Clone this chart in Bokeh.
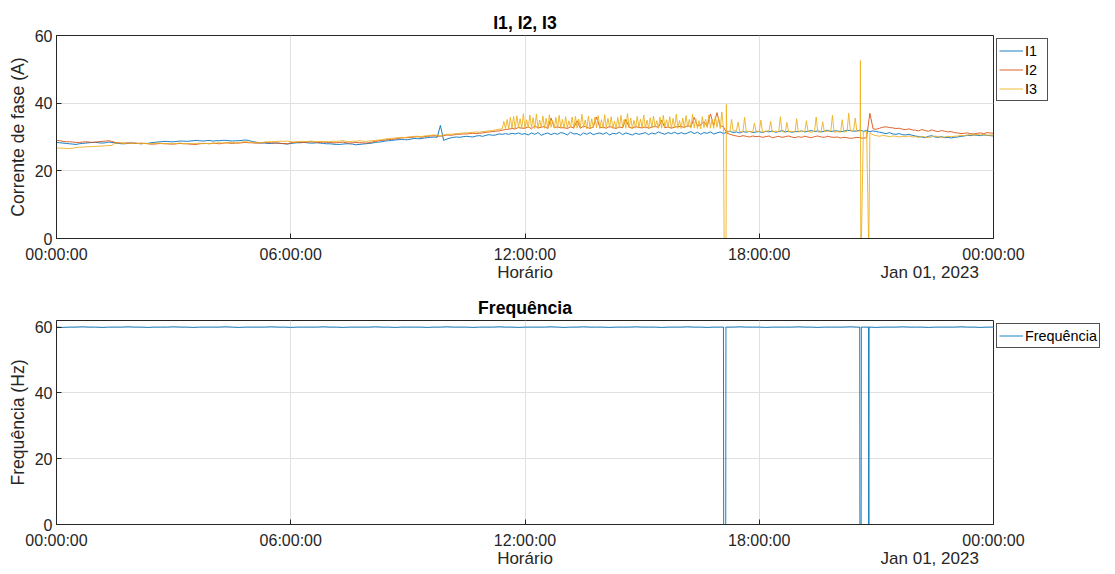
from bokeh.plotting import figure
from bokeh.layouts import column
from bokeh.models import FixedTicker, Legend, LegendItem, Range1d, LinearAxis
from bokeh.embed import file_html
from bokeh.resources import INLINE

# ---------------- data (5-minute samples, 00:00 .. 24:00) ----------------
i1 = [
    28.4, 28.3, 28.2, 28.1, 28.0, 27.9, 27.8, 28.0, 28.1, 28.2, 28.3, 28.4,
    28.4, 28.3, 28.2, 28.3, 28.5, 28.4, 28.2, 28.1, 28.0, 28.0, 28.1, 28.2,
    28.2, 28.1, 28.0, 28.1, 28.1, 28.3, 28.4, 28.5, 28.6, 28.7, 28.7, 28.6,
    28.6, 28.7, 28.8, 28.8, 28.7, 28.8, 28.9, 29.0, 28.9, 28.8, 28.9, 29.0,
    28.8, 28.9, 28.9, 29.0, 29.0, 28.9, 28.8, 28.9, 28.9, 29.0, 29.1, 29.0,
    28.7, 28.5, 28.3, 28.2, 28.2, 28.1, 28.1, 28.2, 28.2, 28.1, 28.0, 27.9,
    28.1, 28.2, 28.3, 28.3, 28.4, 28.3, 28.2, 28.2, 28.3, 28.2, 28.1, 28.0,
    28.0, 27.9, 27.8, 27.8, 27.9, 28.0, 28.0, 27.9, 27.7, 27.8, 27.9, 28.0,
    28.1, 28.2, 28.4, 28.5, 28.6, 28.8, 28.9, 29.0, 29.1, 29.2, 29.3, 29.2,
    29.2, 29.4, 29.6, 29.5, 29.5, 29.7, 29.8, 29.9, 30.0, 29.9, 33.4, 29.0,
    29.4, 29.7, 29.9, 30.0, 29.9, 30.1, 30.2, 30.1, 30.0, 30.3, 30.4, 30.2,
    30.5, 30.7, 30.5, 30.6, 30.9, 30.8, 31.0, 30.8, 31.1, 30.9, 31.2, 30.8,
    31.0, 30.6, 31.2, 30.8, 31.3, 30.5, 30.9, 31.2, 30.7, 31.1, 30.8, 31.3,
    31.1, 30.6, 31.4, 30.9, 31.0, 30.5, 31.2, 30.8, 31.3, 30.7, 31.0, 31.2,
    30.8, 31.3, 30.6, 31.1, 30.9, 31.4, 30.7, 31.2, 30.9, 30.6, 31.1, 30.8,
    31.0, 31.3, 30.7, 31.2, 30.9, 31.5, 31.1, 30.8, 31.3, 31.0, 31.4, 30.9,
    31.3, 30.9, 31.2, 31.6, 31.0, 31.4, 30.8, 31.3, 31.1, 31.5, 30.9, 31.2,
    31.5, 31.0, 31.4, 31.7, 31.3, 31.5, 31.2, 31.6, 31.4, 31.7, 31.3, 31.5,
    31.6, 31.3, 31.7, 31.5, 31.8, 31.4, 31.6, 31.9, 31.5, 31.7, 31.4, 31.6,
    31.6, 31.8, 31.5, 31.7, 31.9, 31.6, 31.8, 31.5, 31.7, 32.0, 31.6, 31.8,
    31.8, 31.6, 31.7, 32.0, 31.9, 31.7, 31.8, 32.0, 31.7, 31.9, 31.6, 31.8,
    31.6, 31.4, 31.2, 31.0, 31.3, 30.9, 30.8, 31.0, 30.7, 30.6, 30.8, 30.5,
    30.3, 30.1, 30.0, 29.8, 30.2, 30.4, 30.0, 29.9, 30.1, 29.8, 29.9, 29.7,
    29.9, 30.0, 30.2, 30.3, 30.5, 30.4, 30.6, 30.5, 30.4, 30.6, 30.5, 30.4,
    30.3,
]
i2 = [
    29.0, 28.9, 28.7, 28.6, 28.6, 28.5, 28.4, 28.4, 28.5, 28.6, 28.5, 28.4,
    28.5, 28.6, 28.7, 28.8, 28.9, 28.7, 28.4, 28.3, 28.2, 28.2, 28.3, 28.2,
    28.1, 28.1, 28.2, 28.1, 28.0, 27.9, 27.9, 28.0, 28.1, 28.0, 28.0, 27.9,
    27.9, 28.0, 28.1, 28.0, 28.0, 27.9, 27.8, 27.8, 28.0, 28.1, 28.1, 28.0,
    28.2, 28.1, 28.0, 28.1, 28.3, 28.2, 28.1, 28.2, 28.2, 28.3, 28.4, 28.3,
    28.3, 28.2, 28.2, 28.3, 28.4, 28.3, 28.3, 28.2, 28.2, 28.1, 28.1, 28.0,
    28.3, 28.4, 28.5, 28.4, 28.4, 28.5, 28.6, 28.5, 28.4, 28.4, 28.5, 28.4,
    28.4, 28.3, 28.3, 28.4, 28.5, 28.3, 28.2, 28.3, 28.4, 28.3, 28.3, 28.2,
    28.3, 28.5, 28.7, 28.9, 29.0, 29.1, 29.3, 29.3, 29.4, 29.6, 29.7, 29.8,
    29.8, 29.9, 30.0, 30.1, 29.9, 30.1, 30.2, 30.3, 30.4, 30.3, 30.2, 30.4,
    30.6, 30.5, 30.6, 30.8, 30.8, 30.9, 30.9, 31.0, 31.1, 31.0, 31.1, 31.2,
    31.4, 31.5, 31.6, 31.7, 31.8, 32.0, 32.2, 32.3, 32.5, 32.4, 32.8, 32.6,
    32.6, 33.0, 32.4, 33.3, 32.7, 32.9, 33.1, 32.5, 35.6, 32.8, 33.0, 32.7,
    32.8, 32.5, 33.0, 32.7, 34.8, 32.6, 33.2, 32.9, 32.5, 33.0, 35.9, 32.8,
    32.9, 32.6, 33.1, 32.8, 32.5, 33.0, 32.7, 35.2, 32.9, 32.6, 33.1, 32.8,
    32.7, 33.0, 32.6, 32.9, 33.2, 32.8, 34.9, 32.7, 33.0, 32.6, 32.9, 33.1,
    33.1, 32.8, 33.4, 33.0, 35.8, 33.3, 33.6, 34.5, 33.2, 36.8, 33.5, 37.2,
    33.4, 33.0, 31.2, 30.8, 30.5, 30.3, 30.1, 30.4, 30.2, 30.0, 30.3, 30.1,
    30.2, 29.9, 30.1, 30.3, 29.8, 30.0, 30.2, 29.9, 30.1, 30.3, 30.0, 29.8,
    30.1, 29.9, 30.2, 30.0, 29.8, 30.1, 30.3, 30.0, 29.9, 30.2, 30.0, 29.9,
    30.0, 29.7, 29.9, 29.8, 29.6, 29.7, 29.9, 29.8, 29.6, 29.8, 37.0, 32.4,
    32.3, 32.6, 32.9, 33.0, 32.8, 32.7, 32.5, 32.6, 32.3, 32.2, 32.4, 32.1,
    32.0, 31.8, 32.2, 31.9, 31.7, 32.1, 31.8, 31.6, 31.9, 31.7, 31.5, 31.6,
    31.3, 31.2, 31.0, 31.1, 31.2, 31.0, 30.9, 31.1, 31.2, 31.0, 31.3, 31.2,
    31.1,
]
i3 = [
    26.8, 26.7, 26.7, 26.6, 26.6, 26.7, 26.9, 27.0, 27.0, 27.1, 27.1, 27.2,
    27.2, 27.3, 27.3, 27.4, 27.5, 27.5, 28.2, 28.3, 28.2, 28.1, 28.2, 28.1,
    28.2, 28.1, 28.0, 28.1, 28.1, 28.0, 28.1, 28.2, 28.1, 28.1, 28.0, 28.1,
    28.0, 28.1, 28.2, 28.1, 28.0, 28.1, 28.0, 28.1, 28.2, 28.0, 28.1, 28.0,
    28.1, 28.2, 28.3, 28.2, 28.2, 28.4, 28.3, 28.4, 28.3, 28.5, 28.6, 28.5,
    28.4, 28.5, 28.4, 28.3, 28.5, 28.6, 28.6, 28.7, 28.7, 28.8, 28.7, 28.8,
    28.6, 28.5, 28.6, 28.7, 28.7, 28.6, 28.8, 28.7, 28.6, 28.7, 28.6, 28.7,
    28.6, 28.8, 28.7, 28.8, 28.9, 28.7, 28.6, 28.8, 28.7, 28.9, 28.8, 28.7,
    28.8, 28.9, 29.0, 29.1, 29.2, 29.4, 29.5, 29.6, 29.7, 29.8, 29.9, 29.8,
    30.0, 30.1, 30.2, 30.2, 30.1, 30.3, 30.4, 30.5, 30.6, 30.5, 30.4, 30.6,
    30.8, 30.8, 30.9, 31.0, 31.1, 31.2, 31.2, 31.3, 31.4, 31.5, 31.4, 31.6,
    31.7, 31.8, 31.9, 32.1, 32.3, 32.4, 32.5, 32.4, 32.6, 32.5, 32.7, 32.6,
    32.4, 32.7, 32.8, 32.5, 32.5, 32.9, 32.6, 32.4, 32.9, 32.6, 32.6, 32.8,
    32.5, 32.7, 32.9, 32.5, 32.6, 32.8, 32.8, 32.4, 32.4, 32.7, 32.7, 32.5,
    32.6, 32.8, 32.8, 32.5, 32.5, 32.7, 32.9, 32.6, 32.7, 32.5, 32.6, 32.8,
    32.8, 32.6, 32.5, 32.8, 32.9, 32.6, 32.6, 32.9, 32.8, 32.5, 32.7, 32.6,
    32.5, 32.8, 32.9, 32.6, 32.7, 32.5, 32.4, 32.8, 32.8, 32.6, 32.6, 32.9,
    32.5, 32.6, 31.8, 31.6, 31.7, 31.9, 31.5, 31.6, 31.7, 31.6, 31.5, 31.8,
    31.6, 31.4, 31.7, 31.8, 31.5, 31.7, 31.6, 31.6, 31.4, 31.5, 31.7, 31.5,
    31.5, 31.8, 31.6, 31.6, 31.4, 31.7, 31.5, 31.5, 31.6, 31.7, 31.8, 31.4,
    31.6, 31.4, 31.5, 31.7, 31.8, 32.0, 31.7, 31.8, 31.5, 31.7, 31.3, 30.6,
    30.4, 30.2, 30.5, 30.3, 30.1, 30.3, 30.2, 30.0, 30.2, 30.1, 30.3, 30.0,
    30.1, 29.9, 30.2, 30.0, 29.8, 30.0, 30.3, 30.1, 29.9, 30.0, 30.2, 30.1,
    30.2, 30.3, 30.5, 30.4, 30.6, 30.7, 30.5, 30.8, 30.6, 30.7, 30.5, 30.6,
    30.6,
]
# I3 needle peaks between the 5-minute samples, 11:27:30 .. 17:02:30 (every 5 min)
i3_dense_peaks = [
    34.6, 35.2, 35.8, 36.1, 36.3, 35.4, 36.9, 35.1, 36.5, 35.7, 36.8, 35.0,
    36.2, 35.5, 36.6, 34.9, 35.8, 36.4, 35.2, 36.0, 34.8, 35.9, 36.1, 35.3,
    36.7, 35.0, 36.2, 35.4, 35.9, 36.3, 35.1, 36.6, 35.5, 36.0, 34.7, 35.8,
    36.4, 35.2, 36.9, 35.6, 34.9, 36.1, 35.3, 36.5, 35.0, 35.7, 36.2, 34.8,
    35.9, 36.4, 35.1, 36.0, 35.5, 36.8, 34.9, 35.6, 36.3, 35.2, 36.7, 35.4,
    34.8, 36.0, 35.3, 36.5, 35.1, 36.2, 35.7, 37.4,
]
i3_dense_start = 687.5
# sparser I3 peaks after 17:10 (minute of day, value)
i3_sparse_t = [1037.5, 1047.5, 1057.5, 1072.5, 1082.5, 1097.5, 1112.5, 1122.5,
               1137.5, 1152.5, 1167.5, 1177.5, 1192.5, 1207.5, 1217.5, 1227.5]
i3_sparse_v = [35.2, 34.4, 35.8, 34.1, 35.0, 34.6, 36.0, 34.3,
               35.4, 34.8, 35.9, 34.5, 36.4, 35.1, 37.0, 35.6]
# I3 dropouts / transients (minute of day, value)
i3_evt_t = [1026.0, 1029.0, 1029.5, 1235.5, 1236.0, 1237.0, 1248.0, 1248.5]
i3_evt_v = [0.0, 0.0, 39.6, 52.6, 0.0, 0.0, 0.0, 0.0]

# frequency, 10-minute samples
freq = [
    60.0, 59.9, 60.0, 60.0, 60.1, 60.0,
    60.0, 59.9, 60.0, 60.0, 60.0, 60.1,
    60.0, 60.0, 59.9, 60.0, 60.0, 60.0,
    60.1, 60.0, 60.0, 59.9, 60.0, 60.0,
    60.0, 60.0, 60.1, 60.0, 59.9, 60.0,
    60.0, 60.0, 60.0, 60.1, 60.0, 60.0,
    59.9, 60.0, 60.0, 60.0, 60.0, 60.1,
    60.0, 60.0, 59.9, 60.0, 60.0, 60.0,
    60.0, 60.1, 60.0, 60.0, 59.9, 60.0,
    60.0, 60.0, 60.0, 59.9, 60.0, 60.0,
    60.1, 60.0, 60.0, 60.0, 59.9, 60.0,
    60.0, 60.0, 60.1, 60.0, 60.0, 59.9,
    60.0, 60.0, 60.0, 60.0, 60.1, 60.0,
    59.9, 60.0, 60.0, 60.1, 60.0, 60.0,
    60.0, 59.9, 60.0, 60.0, 60.0, 60.1,
    60.0, 60.0, 60.0, 59.9, 60.0, 60.0,
    60.0, 60.1, 60.0, 60.0, 59.9, 60.0,
    60.0, 60.0, 60.0, 60.1, 60.0, 60.0,
    60.0, 59.9, 60.0, 60.0, 60.0, 60.0,
    60.1, 60.0, 60.0, 59.9, 60.0, 60.0,
    60.0, 60.0, 60.1, 60.0, 60.0, 60.0,
    59.9, 60.0, 60.0, 60.0, 60.1, 60.0,
    60.0, 60.0, 59.9, 60.0, 60.0, 60.0,
    60.0, 60.1, 60.0, 60.0, 59.9, 60.0,
    60.0,
]
freq_evt_t = [1025.0, 1025.3, 1028.5, 1028.8, 1234.4, 1234.7, 1236.6, 1236.9,
              1248.1, 1248.3, 1248.5, 1248.7]
freq_evt_v = [60.0, 0.0, 0.0, 60.0, 60.0, 0.0, 0.0, 60.0, 60.0, 0.0, 0.0, 60.0]

x_ticks = [0, 360, 720, 1080, 1440]
x_tick_labels = ["00:00:00", "06:00:00", "12:00:00", "18:00:00", "00:00:00"]
x_title = "Horário"
date_label = "Jan 01, 2023"
date_label_at = 1342  # minute of day under which the date text is centred

t5 = [5 * k for k in range(len(i1))]
t10 = [10 * k for k in range(len(freq))]
dense_t = [i3_dense_start + 5 * k for k in range(len(i3_dense_peaks))]


def merge(t, v, *extra):
    pts = list(zip(t, v))
    for et, ev in extra:
        pts += list(zip(et, ev))
    pts.sort()
    return [a for a, _ in pts], [b for _, b in pts]


i3_t, i3_v = merge(t5, i3, (dense_t, i3_dense_peaks), (i3_sparse_t, i3_sparse_v),
                   (i3_evt_t, i3_evt_v))
f_t, f_v = merge(t10, freq, (freq_evt_t, freq_evt_v))

FONT = "Liberation Sans"
AX = "#262626"
GRID = "#e0e0e0"
C1, C2, C3 = "#0072BD", "#D95319", "#EDB120"


def style(p, ylabel, title):
    p.title.text = title
    p.title.align = "center"
    p.title.text_font = FONT
    p.title.text_font_size = "17.6px"
    p.title.text_font_style = "bold"
    p.title.text_color = "#000000"
    p.title.standoff = 6
    p.outline_line_color = AX
    p.outline_line_alpha = 1.0
    for ax in (p.xaxis[0], p.yaxis[0]):
        ax.axis_line_color = AX
        ax.major_tick_line_color = AX
        ax.major_tick_in = 5
        ax.major_tick_out = 0
        ax.minor_tick_line_color = None
        ax.major_label_text_font = FONT
        ax.major_label_text_font_size = "16px"
        ax.major_label_text_color = AX
        ax.axis_label_text_font = FONT
        ax.axis_label_text_font_size = "17.6px"
        ax.axis_label_text_font_style = "normal"
        ax.axis_label_text_color = AX
    p.xaxis[0].ticker = FixedTicker(ticks=x_ticks)
    p.xaxis[0].major_label_overrides = {k: s for k, s in zip(x_ticks, x_tick_labels)}
    p.xaxis[0].major_label_standoff = 7
    p.yaxis[0].ticker = FixedTicker(ticks=[0, 20, 40, 60])
    p.yaxis[0].axis_label = ylabel
    p.yaxis[0].major_label_standoff = 4
    p.yaxis[0].axis_label_standoff = 4
    p.xgrid.grid_line_color = GRID
    p.ygrid.grid_line_color = GRID
    p.xgrid.ticker = FixedTicker(ticks=x_ticks)
    p.ygrid.ticker = FixedTicker(ticks=[0, 20, 40, 60])
    # second row under the tick labels: axis title and the date
    ax2 = LinearAxis(ticker=FixedTicker(ticks=[720, date_label_at]),
                     major_label_overrides={720: x_title, date_label_at: date_label},
                     axis_line_color=None, major_tick_line_color=None,
                     major_tick_in=0, major_tick_out=0,
                     minor_tick_line_color=None, minor_tick_in=0, minor_tick_out=0,
                     major_label_standoff=-3,
                     major_label_text_font=FONT, major_label_text_font_size="17px",
                     major_label_text_color=AX)
    p.add_layout(ax2, "below")


def make_legend(items):
    lg = Legend(items=items, location="top_left")
    lg.margin = 3
    lg.padding = 2
    lg.spacing = 0
    lg.label_text_font = FONT
    lg.label_text_font_size = "14.4px"
    lg.label_text_color = "#000000"
    lg.label_standoff = 2
    lg.label_height = 19
    lg.glyph_height = 19
    lg.glyph_width = 24
    lg.border_line_color = AX
    lg.border_line_alpha = 0.8
    lg.background_fill_color = "white"
    lg.background_fill_alpha = 1.0
    return lg


p1 = figure(frame_width=937, frame_height=203, output_backend="svg", toolbar_location=None,
            x_range=Range1d(0, 1440), y_range=Range1d(0, 60),
            min_border_left=56, min_border_right=122, min_border_top=35, min_border_bottom=52)
style(p1, "Corrente de fase (A)", "I1, I2, I3")
r1 = p1.line(t5, i1, line_color=C1, line_width=0.9)
r2 = p1.line(t5, i2, line_color=C2, line_width=0.9)
r3 = p1.line(i3_t, i3_v, line_color=C3, line_width=0.9)
p1.add_layout(make_legend([LegendItem(label="I1", renderers=[r1]),
                           LegendItem(label="I2", renderers=[r2]),
                           LegendItem(label="I3", renderers=[r3])]), "right")

p2 = figure(frame_width=937, frame_height=204, output_backend="svg", toolbar_location=None,
            x_range=Range1d(0, 1440), y_range=Range1d(0, 62),
            min_border_left=56, min_border_right=122, min_border_top=30, min_border_bottom=50)
style(p2, "Frequência (Hz)", "Frequência")
rf = p2.line(f_t, f_v, line_color=C1, line_width=0.9)
p2.add_layout(make_legend([LegendItem(label="Frequência", renderers=[rf])]), "right")

layout = column(p1, p2, spacing=0)
open("out.html", "w").write(file_html(layout, INLINE))
